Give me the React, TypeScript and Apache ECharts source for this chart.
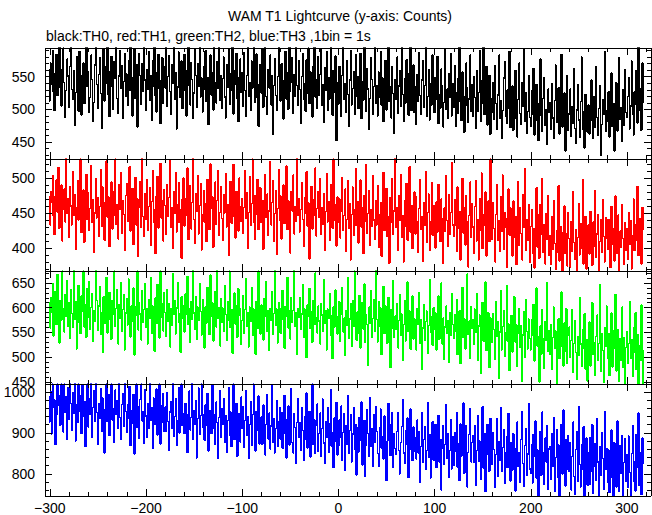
import React, { useEffect, useRef } from "react";
import * as echarts from "echarts";

const TITLE = "WAM T1 Lightcurve (y-axis: Counts)";
const SUBTITLE = "black:TH0, red:TH1, green:TH2, blue:TH3 ,1bin = 1s";
const T_START = -300; // first bin time (s), 1 bin = 1 s

const th0 = [
  512, 571, 538, 590, 527, 498, 556, 584, 521, 549, 600, 533, 505, 562, 594, 541, 488, 529, 577, 551,
  503, 566, 598, 530, 515, 560, 475, 526, 581, 544, 497, 589, 552, 491, 520, 571, 509, 563, 596, 535,
  557, 495, 518, 583, 546, 482, 511, 568, 599, 538, 502, 553, 579, 524, 471, 548, 592, 513, 566, 540,
  596, 522, 489, 558, 581, 535, 500, 573, 547, 605, 516, 494, 551, 590, 532, 567, 486, 543, 585, 520,
  554, 506, 575, 529, 600, 549, 490, 533, 593, 517, 569, 473, 538, 586, 552, 508, 570, 527, 603, 545,
  499, 561, 530, 588, 514, 552, 483, 575, 536, 597, 521, 496, 557, 584, 532, 478, 545, 579, 509, 566,
  533, 599, 504, 551, 582, 527, 492, 569, 540, 594, 515, 556, 470, 534, 588, 549, 518, 574, 501, 555,
  584, 528, 490, 560, 604, 537, 507, 572, 546, 486, 525, 591, 552, 503, 570, 535, 598, 519, 548, 496,
  565, 531, 590, 512, 549, 477, 537, 583, 522, 556, 499, 596, 541, 510, 573, 532, 606, 514, 552, 502,
  547, 580, 519, 487, 568, 534, 593, 508, 555, 529, 601, 493, 559, 538, 586, 516, 481, 549, 577, 526,
  556, 505, 587, 529, 489, 552, 598, 520, 541, 499, 574, 533, 607, 511, 547, 585, 518, 474, 538, 569,
  525, 592, 503, 546, 600, 519, 492, 561, 533, 583, 507, 551, 462, 536, 578, 521, 498, 550, 595, 528,
  513, 570, 544, 485, 534, 589, 516, 556, 500, 597, 527, 542, 579, 494, 553, 520, 604, 537, 506, 574,
  530, 478, 550, 586, 515, 540, 497, 576, 524, 594, 509, 557, 535, 488, 566, 602, 519, 546, 501, 581,
  522, 553, 593, 506, 538, 480, 564, 529, 588, 498, 549, 516, 599, 535, 491, 560, 526, 582, 452, 541,
  508, 566, 533, 489, 552, 597, 515, 540, 496, 575, 523, 474, 545, 590, 507, 532, 558, 492, 584, 520,
  550, 501, 529, 586, 486, 543, 514, 600, 521, 497, 563, 531, 469, 517, 579, 546, 493, 535, 594, 509,
  537, 490, 557, 518, 589, 506, 548, 481, 527, 575, 499, 552, 603, 512, 534, 487, 566, 524, 463, 545,
  516, 580, 494, 536, 559, 505, 598, 523, 482, 547, 510, 576, 530, 491, 555, 607, 498, 528, 568, 495,
  534, 477, 553, 512, 587, 521, 493, 545, 574, 503, 536, 598, 489, 519, 561, 484, 539, 507, 583, 522,
  495, 549, 516, 581, 478, 523, 502, 562, 537, 473, 511, 592, 500, 531, 486, 555, 519, 585, 490, 540,
  503, 567, 474, 525, 494, 548, 598, 511, 483, 557, 520, 465, 505, 571, 533, 480, 516, 583, 497, 538,
  489, 550, 518, 471, 559, 497, 526, 590, 481, 509, 545, 604, 492, 521, 566, 476, 503, 552, 462, 517,
  496, 541, 485, 567, 509, 470, 522, 583, 487, 513, 455, 498, 548, 573, 490, 478, 530, 501, 589, 472,
  499, 536, 468, 507, 560, 486, 458, 515, 571, 494, 477, 541, 504, 593, 482, 526, 463, 497, 552, 488,
  474, 528, 492, 563, 461, 505, 538, 483, 452, 509, 577, 490, 466, 517, 549, 476, 500, 447, 531, 495,
  511, 470, 540, 487, 456, 514, 568, 480, 497, 533, 462, 506, 584, 473, 489, 525, 436, 501, 552, 468,
  493, 531, 459, 504, 478, 562, 471, 448, 499, 538, 484, 457, 512, 580, 469, 496, 441, 523, 490, 465,
  507, 462, 483, 545, 494, 455, 520, 472, 566, 488, 460, 501, 537, 430, 477, 515, 492, 588, 466, 498,
  481, 527, 458, 500, 556, 474, 509, 436, 492, 541, 467, 515, 579, 485, 503, 451, 530, 476, 561, 495,
  488, 520, 549, 470, 505, 574, 492, 461, 527, 508, 560, 479, 598, 499, 532, 468, 571, 510,
];

const th1 = [
  432, 481, 465, 503, 446, 419, 474, 497, 451, 515, 428, 462, 490, 410, 455, 484, 437, 527, 449, 470,
  415, 488, 460, 433, 509, 447, 476, 398, 458, 496, 440, 468, 527, 422, 452, 483, 408, 464, 505, 441,
  479, 425, 456, 518, 436, 469, 394, 450, 499, 443, 472, 417, 459, 512, 431, 487, 453, 411, 466, 524,
  444, 473, 402, 461, 494, 427, 480, 446, 527, 434, 462, 413, 490, 455, 507, 421, 467, 448, 396, 475,
  492, 438, 463, 516, 424, 457, 485, 405, 451, 501, 433, 470, 388, 458, 495, 429, 527, 445, 416, 478,
  441, 497, 425, 459, 486, 404, 466, 511, 437, 455, 392, 474, 502, 428, 451, 521, 443, 468, 410, 483,
  460, 419, 491, 445, 472, 525, 430, 457, 399, 480, 449, 508, 423, 462, 493, 436, 455, 385, 470, 500,
  431, 471, 446, 514, 412, 458, 489, 427, 465, 527, 440, 406, 477, 452, 503, 420, 461, 492, 397, 448,
  482, 437, 463, 409, 498, 447, 426, 520, 456, 473, 401, 460, 494, 434, 468, 510, 418, 451, 487, 442,
  411, 476, 450, 506, 430, 462, 389, 457, 495, 435, 469, 519, 444, 414, 481, 454, 424, 500, 459, 438,
  470, 421, 458, 511, 442, 479, 400, 451, 502, 432, 463, 527, 437, 412, 475, 448, 498, 426, 460, 486,
  436, 468, 398, 457, 505, 444, 477, 418, 453, 523, 433, 465, 496, 409, 449, 482, 391, 456, 512, 440,
  474, 413, 452, 490, 435, 461, 517, 426, 467, 445, 393, 481, 453, 504, 420, 459, 438, 527, 446, 470,
  423, 455, 493, 441, 402, 472, 450, 509, 431, 464, 384, 454, 488, 427, 469, 447, 514, 417, 457, 480,
  444, 499, 420, 458, 434, 478, 396, 452, 506, 437, 466, 411, 491, 449, 428, 527, 440, 462, 403, 473,
  436, 470, 414, 452, 501, 425, 446, 484, 395, 441, 496, 428, 463, 383, 448, 487, 418, 455, 513, 432,
  466, 407, 443, 497, 430, 457, 392, 475, 438, 519, 421, 449, 482, 404, 454, 431, 503, 440, 412, 468,
  433, 489, 401, 447, 465, 388, 441, 508, 425, 458, 485, 416, 444, 378, 472, 436, 499, 419, 453, 527,
  429, 458, 397, 474, 439, 505, 415, 446, 380, 467, 431, 492, 411, 452, 516, 423, 461, 399, 437, 480,
  420, 473, 437, 394, 456, 498, 426, 445, 381, 464, 432, 509, 408, 450, 477, 396, 437, 493, 418, 461,
  448, 400, 466, 423, 491, 435, 409, 470, 442, 378, 457, 424, 503, 439, 402, 476, 419, 451, 522, 433,
  416, 469, 433, 395, 487, 428, 452, 383, 440, 499, 421, 458, 404, 475, 437, 373, 446, 494, 415, 463,
  430, 392, 459, 496, 410, 441, 383, 471, 425, 507, 399, 448, 433, 480, 388, 419, 467, 409, 527, 437,
  412, 465, 427, 380, 448, 490, 411, 439, 395, 473, 424, 504, 398, 450, 429, 372, 442, 484, 418, 457,
  426, 388, 467, 415, 445, 376, 433, 495, 404, 458, 420, 383, 476, 429, 513, 397, 440, 411, 462, 379,
  431, 455, 393, 428, 371, 414, 486, 401, 447, 385, 462, 420, 499, 394, 433, 377, 449, 412, 474, 390,
  418, 376, 444, 398, 468, 407, 369, 425, 394, 489, 381, 431, 410, 367, 423, 460, 392, 421, 374, 451,
  413, 372, 438, 395, 481, 408, 384, 426, 367, 415, 463, 390, 435, 399, 498, 377, 419, 445, 370, 411,
  433, 391, 452, 412, 375, 437, 403, 482, 386, 420, 447, 367, 409, 440, 394, 469, 416, 380, 443, 414,
  398, 441, 411, 372, 459, 405, 428, 381, 474, 416, 392, 447, 367, 424, 401, 462, 413, 376, 436, 396,
  427, 384, 451, 405, 439, 370, 418, 470, 396, 433, 411, 488, 389, 442, 420, 377, 458, 425,
];

const th2 = [
  558, 621, 590, 648, 543, 604, 633, 566, 667, 595, 529, 615, 575, 674, 598, 551, 627, 582, 655, 563,
  610, 538, 636, 588, 560, 674, 577, 612, 517, 599, 645, 570, 548, 624, 593, 674, 561, 607, 540, 638,
  581, 652, 556, 601, 629, 532, 594, 573, 674, 614, 555, 603, 642, 546, 590, 509, 622, 568, 597, 661,
  549, 600, 631, 575, 536, 614, 586, 674, 562, 598, 637, 527, 606, 579, 650, 553, 596, 626, 515, 589,
  619, 565, 658, 592, 541, 603, 572, 640, 504, 601, 584, 674, 555, 611, 587, 535, 634, 570, 597, 648,
  560, 598, 527, 617, 579, 660, 548, 603, 585, 512, 620, 568, 647, 594, 539, 674, 581, 608, 553, 630,
  590, 542, 636, 573, 609, 521, 597, 564, 669, 586, 614, 547, 599, 651, 570, 588, 510, 622, 579, 604,
  551, 628, 586, 663, 566, 598, 530, 612, 577, 674, 589, 557, 623, 536, 601, 575, 649, 592, 545, 617,
  582, 519, 601, 569, 641, 594, 546, 666, 583, 610, 533, 590, 632, 561, 674, 578, 600, 523, 618, 571,
  599, 552, 645, 587, 534, 613, 574, 674, 560, 596, 508, 592, 630, 567, 604, 540, 638, 585, 597, 526,
  575, 624, 549, 596, 659, 563, 590, 521, 601, 572, 640, 544, 597, 579, 506, 613, 558, 674, 586, 547,
  605, 569, 535, 619, 583, 652, 552, 594, 514, 598, 574, 632, 546, 588, 674, 565, 597, 529, 611, 578,
  548, 599, 635, 576, 518, 602, 583, 661, 559, 594, 537, 620, 571, 595, 674, 563, 589, 505, 598, 580,
  621, 556, 587, 646, 540, 597, 575, 499, 606, 582, 639, 558, 591, 530, 614, 566, 670, 579, 549, 603,
  573, 527, 609, 585, 553, 657, 568, 594, 515, 597, 578, 628, 544, 584, 497, 602, 561, 636, 583, 547,
  563, 612, 532, 586, 640, 551, 579, 503, 594, 565, 660, 538, 577, 608, 522, 614, 562, 674, 572, 534,
  592, 548, 625, 519, 579, 610, 557, 648, 530, 585, 566, 484, 601, 569, 635, 541, 578, 616, 553, 674,
  576, 531, 612, 563, 599, 505, 584, 643, 548, 603, 571, 528, 621, 580, 479, 596, 559, 655, 540, 583,
  557, 609, 519, 574, 626, 545, 587, 494, 566, 615, 533, 580, 652, 552, 593, 516, 571, 624, 537, 578,
  561, 515, 598, 566, 630, 528, 575, 476, 559, 607, 535, 572, 593, 508, 563, 657, 550, 581, 524, 600,
  557, 589, 514, 571, 624, 536, 566, 650, 527, 579, 496, 561, 603, 548, 574, 489, 590, 545, 628, 566,
  538, 586, 553, 617, 505, 565, 594, 487, 556, 641, 540, 577, 517, 562, 668, 546, 573, 498, 602, 558,
  576, 526, 597, 550, 628, 494, 563, 585, 468, 554, 611, 532, 570, 652, 513, 559, 590, 479, 580, 541,
  530, 588, 556, 496, 612, 543, 571, 458, 551, 635, 515, 562, 594, 502, 549, 645, 533, 567, 473, 556,
  584, 510, 547, 622, 531, 566, 481, 548, 598, 520, 563, 452, 545, 591, 499, 616, 552, 517, 577, 538,
  515, 575, 544, 607, 492, 557, 640, 523, 541, 450, 563, 506, 596, 537, 478, 572, 534, 651, 512, 553,
  506, 566, 475, 539, 601, 518, 553, 447, 530, 578, 497, 545, 632, 521, 482, 569, 511, 598, 488, 544,
  561, 499, 534, 596, 470, 528, 574, 510, 456, 542, 503, 620, 527, 481, 555, 519, 588, 476, 536, 452,
  517, 571, 482, 545, 610, 506, 530, 463, 542, 585, 494, 528, 647, 471, 548, 513, 449, 559, 522, 603,
  497, 548, 463, 530, 589, 480, 553, 518, 627, 472, 507, 556, 451, 537, 493, 601, 479, 540, 447, 520,
  552, 488, 527, 612, 498, 536, 461, 559, 510, 590, 475, 546, 447, 524, 493, 605, 515, 447,
];

const th3 = [
  925, 1001, 897, 1019, 962, 980, 871, 945, 1019, 993, 966, 918, 1019, 974, 902, 1019, 950, 988, 885, 1010,
  933, 1019, 971, 905, 998, 947, 1019, 880, 968, 926, 1019, 952, 990, 898, 1015, 941, 977, 866, 958, 1019,
  914, 983, 945, 1019, 889, 962, 1002, 927, 1019, 949, 872, 971, 936, 1008, 903, 985, 950, 851, 957, 1019,
  927, 993, 893, 964, 1019, 931, 958, 876, 1004, 944, 979, 910, 1019, 938, 884, 969, 996, 916, 1019, 952,
  901, 968, 936, 1013, 869, 955, 922, 994, 848, 947, 1019, 913, 964, 887, 981, 1019, 929, 952, 874, 1004,
  941, 889, 972, 910, 1019, 930, 961, 862, 985, 920, 953, 1007, 894, 938, 1019, 873, 966, 925, 996, 903,
  963, 904, 999, 928, 857, 951, 976, 911, 1019, 892, 940, 984, 870, 929, 1011, 900, 962, 1019, 918, 946,
  898, 972, 930, 852, 944, 1002, 907, 938, 1019, 883, 955, 921, 978, 839, 934, 1009, 896, 942, 1019, 913,
  944, 882, 968, 919, 996, 856, 927, 955, 898, 1017, 910, 943, 871, 975, 925, 838, 937, 1003, 890, 958,
  920, 983, 876, 941, 852, 929, 1011, 895, 951, 866, 932, 1019, 884, 918, 972, 843, 925, 947, 878, 987,
  911, 964, 865, 930, 1003, 893, 940, 837, 921, 976, 869, 945, 1019, 899, 856, 952, 907, 990, 872, 933,
  939, 872, 968, 903, 846, 921, 994, 885, 948, 861, 917, 1015, 876, 935, 851, 910, 979, 866, 926, 961,
  884, 949, 862, 920, 991, 898, 839, 932, 965, 870, 909, 1008, 877, 851, 946, 913, 826, 925, 983, 889,
  925, 858, 961, 906, 832, 939, 884, 997, 863, 915, 952, 841, 903, 1019, 872, 931, 849, 918, 970, 855,
  899, 948, 842, 910, 982, 875, 826, 927, 889, 961, 853, 922, 1005, 868, 901, 815, 936, 880, 974, 846,
  867, 931, 889, 965, 833, 901, 947, 808, 918, 872, 990, 850, 905, 944, 829, 897, 962, 861, 921, 797,
  912, 853, 938, 881, 975, 822, 896, 930, 794, 870, 957, 899, 843, 986, 866, 909, 818, 944, 877, 963,
  903, 849, 818, 912, 958, 862, 890, 836, 941, 855, 784, 880, 972, 921, 844, 868, 949, 815, 899, 861,
  848, 903, 949, 857, 800, 876, 915, 981, 851, 825, 906, 872, 936, 791, 859, 958, 883, 832, 914, 856,
  888, 836, 931, 851, 902, 780, 866, 949, 829, 883, 915, 811, 857, 974, 840, 895, 790, 871, 927, 833,
  876, 921, 815, 852, 942, 829, 884, 761, 862, 917, 823, 871, 968, 838, 899, 792, 857, 932, 812, 890,
  820, 901, 855, 950, 816, 874, 784, 922, 843, 885, 973, 801, 862, 918, 768, 853, 897, 959, 829, 876,
  893, 828, 917, 772, 856, 941, 831, 880, 787, 861, 964, 814, 899, 757, 846, 921, 867, 806, 935, 838,
  823, 901, 859, 766, 847, 934, 795, 879, 832, 962, 805, 864, 908, 776, 852, 891, 815, 947, 860, 782,
  877, 809, 898, 846, 758, 862, 926, 818, 851, 780, 883, 952, 825, 770, 869, 911, 797, 848, 971, 812,
  801, 872, 778, 896, 843, 929, 789, 858, 746, 835, 903, 796, 951, 852, 774, 887, 829, 918, 763, 861,
  865, 786, 899, 818, 937, 757, 839, 908, 791, 870, 746, 828, 921, 799, 956, 845, 770, 883, 811, 894,
  806, 877, 761, 842, 926, 794, 750, 860, 903, 781, 963, 823, 768, 871, 812, 915, 746, 839, 888, 772,
  851, 774, 889, 806, 920, 752, 818, 873, 785, 934, 829, 746, 866, 797, 901, 838, 763, 952, 811, 862,
  779, 858, 754, 831, 907, 790, 746, 876, 815, 768, 929, 822, 757, 869, 801, 893, 746, 827, 885, 782,
  846, 767, 892, 804, 746, 849, 917, 781, 830, 758, 896, 815, 948, 772, 851, 749, 887, 825,
];

const X_MIN = -305;
const X_MAX = 325;
const X_MAJOR = 100;
const X_MINOR = 20;

const PANELS = [
  { data: th0, color: "#000000", min: 424, max: 594, major: 50, minor: 10, top: 48, height: 111 },
  { data: th1, color: "#ff0000", min: 367, max: 527, major: 50, minor: 10, top: 159, height: 112 },
  { data: th2, color: "#00ff00", min: 446, max: 674, major: 50, minor: 10, top: 271, height: 113 },
  { data: th3, color: "#0000ff", min: 746, max: 1019, major: 100, minor: 20, top: 384, height: 112 },
];

const FONT = "'Liberation Sans', Helvetica, Arial, sans-serif";

export default function App() {
  const ref = useRef<HTMLDivElement>(null);
  useEffect(() => {
    if (!ref.current) return;
    const chart = echarts.init(ref.current, null, { renderer: "svg" });
    const grids: any[] = [];
    const xAxes: any[] = [];
    const yAxes: any[] = [];
    const series: any[] = [];
    const last = PANELS.length - 1;
    PANELS.forEach((p, i) => {
      const g = { left: 45, width: 606, top: p.top, height: p.height, show: false };
      grids.push({ ...g }, { ...g });
      const gA = 2 * i;
      const gB = 2 * i + 1;
      const mkX = (grid: number, pos: string, step: number, major: boolean, label: boolean) => ({
        type: "value",
        gridIndex: grid,
        position: pos,
        min: X_MIN,
        max: X_MAX,
        minInterval: step,
        maxInterval: step,
        axisLine: { show: major, onZero: false, lineStyle: { color: "#000", width: 1 } },
        axisTick: { show: true, inside: true, length: major ? 7 : 4, lineStyle: { color: "#000", width: 1 } },
        axisLabel: {
          show: label,
          showMinLabel: false,
          showMaxLabel: false,
          color: "#000",
          fontSize: 14,
          fontFamily: FONT,
          margin: 5,
          formatter: (v: number) => String(v).replace("-", "\u2212"),
        },
        splitLine: { show: false },
        z: 5,
      });
      const mkY = (grid: number, pos: string, step: number, major: boolean, label: boolean) => ({
        type: "value",
        gridIndex: grid,
        position: pos,
        min: p.min,
        max: p.max,
        minInterval: step,
        maxInterval: step,
        axisLine: { show: major, onZero: false, lineStyle: { color: "#000", width: 1 } },
        axisTick: { show: true, inside: true, length: major ? 7 : 4, lineStyle: { color: "#000", width: 1 } },
        axisLabel: {
          show: label,
          showMinLabel: false,
          showMaxLabel: false,
          color: "#000",
          fontSize: 14,
          fontFamily: FONT,
          margin: 10,
          formatter: (v: number) => String(v),
        },
        splitLine: { show: false },
        z: 5,
      });
      const xBase = xAxes.length;
      xAxes.push(
        mkX(gA, "bottom", X_MAJOR, true, i === last),
        mkX(gA, "top", X_MAJOR, true, false),
        mkX(gB, "bottom", X_MINOR, false, false),
        mkX(gB, "top", X_MINOR, false, false)
      );
      const yBase = yAxes.length;
      yAxes.push(
        mkY(gA, "left", p.major, true, true),
        mkY(gA, "right", p.major, true, false),
        mkY(gB, "left", p.minor, false, false),
        mkY(gB, "right", p.minor, false, false)
      );
      series.push({
        type: "line",
        xAxisIndex: xBase,
        yAxisIndex: yBase,
        data: p.data.map((v, k) => [T_START + k, v]),
        step: "middle",
        symbol: "none",
        showSymbol: false,
        clip: true,
        silent: true,
        z: 2,
        lineStyle: { color: p.color, width: 1.4 },
        itemStyle: { color: p.color },
      });
    });
    chart.setOption({
      animation: false,
      backgroundColor: "#ffffff",
      grid: grids,
      xAxis: xAxes,
      yAxis: yAxes,
      series,
      graphic: [
        {
          type: "text",
          x: 340,
          y: 16,
          style: { text: TITLE, fill: "#000", font: `14px ${FONT}`, textAlign: "center", textVerticalAlign: "middle" },
        },
        {
          type: "text",
          x: 46,
          y: 35.5,
          style: { text: SUBTITLE, fill: "#000", font: `14px ${FONT}`, textAlign: "left", textVerticalAlign: "middle" },
        },
      ],
    });
    return () => chart.dispose();
  }, []);
  return (
    <>
      <style>{".lc-chart svg path{shape-rendering:crispEdges}"}</style>
      <div
        ref={ref}
        className="lc-chart"
        style={{ position: "fixed", left: 0, top: 0, width: 652, height: 515, background: "#fff" }}
      />
    </>
  );
}
